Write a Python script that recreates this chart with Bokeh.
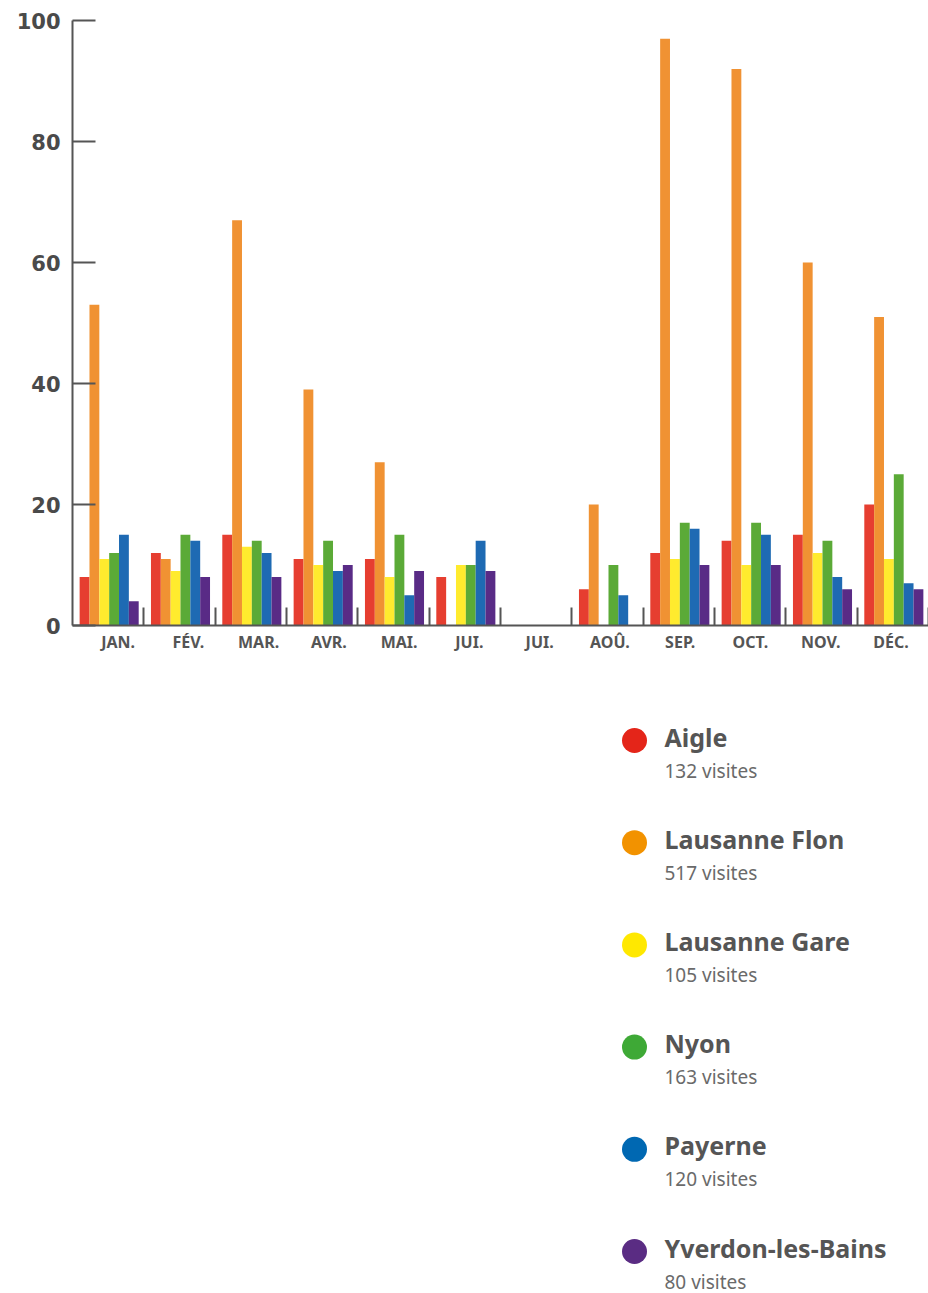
from bokeh.plotting import figure
from bokeh.models import FixedTicker, Range1d
from bokeh.layouts import column
from bokeh.core.properties import value
from bokeh.embed import file_html
from bokeh.resources import INLINE

# ---------------- data ----------------
months = ["JAN.", "FÉV.", "MAR.", "AVR.", "MAI.", "JUI.", "JUI.", "AOÛ.", "SEP.", "OCT.", "NOV.", "DÉC."]
series_names = ["Aigle", "Lausanne Flon", "Lausanne Gare", "Nyon", "Payerne", "Yverdon-les-Bains"]
aigle = [8, 12, 15, 11, 11, 8, 0, 6, 12, 14, 15, 20]
lausanne_flon = [53, 11, 67, 39, 27, 0, 0, 20, 97, 92, 60, 51]
lausanne_gare = [11, 9, 13, 10, 8, 10, 0, 0, 11, 10, 12, 11]
nyon = [12, 15, 14, 14, 15, 10, 0, 10, 17, 17, 14, 25]
payerne = [15, 14, 12, 9, 5, 14, 0, 5, 16, 15, 8, 7]
yverdon = [4, 8, 8, 10, 9, 9, 0, 0, 10, 10, 6, 6]
totals = [132, 517, 105, 163, 120, 80]
y_ticks = [0, 20, 40, 60, 80, 100]

series_values = [aigle, lausanne_flon, lausanne_gare, nyon, payerne, yverdon]
bar_colors = ["#E63E30", "#F09233", "#FFEB2E", "#5BAA37", "#1E6AB3", "#592B86"]
dot_colors = ["#E42519", "#F29200", "#FFE800", "#3EA936", "#0068B2", "#5A2C83"]

W = 928
LEFT = 72
CHART_H = 670
LEGEND_H = 623

# ---------------- chart ----------------
n = len(months)
p = figure(width=W, height=CHART_H, x_range=Range1d(0, n), y_range=Range1d(0, 100),
           output_backend="svg", toolbar_location=None,
           min_border_left=LEFT, min_border_right=0, min_border_top=20, min_border_bottom=45)
p.outline_line_color = None
p.xgrid.grid_line_color = None
p.ygrid.grid_line_color = None

group_pad = 0.10
bar_w = 0.138
for j, vals in enumerate(series_values):
    xs = [i + group_pad + bar_w * (j + 0.5) for i in range(n)]
    p.vbar(x=xs, top=vals, bottom=0, width=bar_w, fill_color=bar_colors[j], line_color=None)

# y axis
p.yaxis.ticker = FixedTicker(ticks=y_ticks)
p.yaxis.major_tick_in = 23
p.yaxis.major_tick_out = 0
p.yaxis.minor_tick_line_color = None
p.yaxis.axis_line_width = 2
p.yaxis.axis_line_color = "#555555"
p.yaxis.major_tick_line_color = "#555555"
p.yaxis.major_tick_line_width = 2
p.yaxis.major_label_text_font = "DejaVu Sans"
p.yaxis.major_label_text_font_style = "bold"
p.yaxis.major_label_text_font_size = "21px"
p.yaxis.major_label_text_color = "#4a4a4a"
p.yaxis.major_label_standoff = 12

# x axis: labels at their own positions, group separators as minor ticks
label_pos = [0.639 + 0.985 * i for i in range(n)]
p.xaxis.ticker = FixedTicker(ticks=label_pos, minor_ticks=list(range(1, n + 1)))
p.xaxis.major_label_overrides = {pos: lab for pos, lab in zip(label_pos, months)}
p.xaxis.major_tick_line_color = None
p.xaxis.major_tick_in = 0
p.xaxis.major_tick_out = 0
p.xaxis.minor_tick_in = 18
p.xaxis.minor_tick_out = 0
p.xaxis.minor_tick_line_color = "#555555"
p.xaxis.minor_tick_line_width = 2
p.xaxis.axis_line_width = 2
p.xaxis.axis_line_color = "#555555"
p.xaxis.major_label_text_font = "Noto Sans"
p.xaxis.major_label_text_font_style = "bold"
p.xaxis.major_label_text_font_size = "16px"
p.xaxis.major_label_text_color = "#555555"
p.xaxis.major_label_standoff = 5

# ---------------- legend ----------------
# frame aligned with the chart's frame (starts at LEFT), x range in page pixels
lg = figure(width=W, height=LEGEND_H, x_range=Range1d(LEFT, W), y_range=Range1d(LEGEND_H, 0),
            output_backend="svg", toolbar_location=None,
            min_border_left=LEFT, min_border_right=0, min_border_top=0, min_border_bottom=0)
lg.outline_line_color = None
lg.axis.visible = False
lg.grid.visible = False

first_y = 70
step = 102.2
ys = [first_y + step * i for i in range(len(series_names))]
lg.scatter(x=[634] * len(ys), y=ys, size=25, marker="circle", fill_color=dot_colors, line_color=None)
lg.text(x=[664] * len(ys), y=[y - 4 for y in ys], text=series_names,
        text_font=value("Noto Sans"), text_font_style="bold", text_font_size="25px",
        text_color="#555555", text_baseline="alphabetic", text_align="left")
lg.text(x=[664] * len(ys), y=[y + 30 for y in ys], text=[f"{t} visites" for t in totals],
        text_font=value("Noto Sans"), text_font_size="19px",
        text_color="#6a6a6a", text_baseline="alphabetic", text_align="left")

layout = column(p, lg, spacing=0)
open("out.html", "w").write(file_html(layout, INLINE))
